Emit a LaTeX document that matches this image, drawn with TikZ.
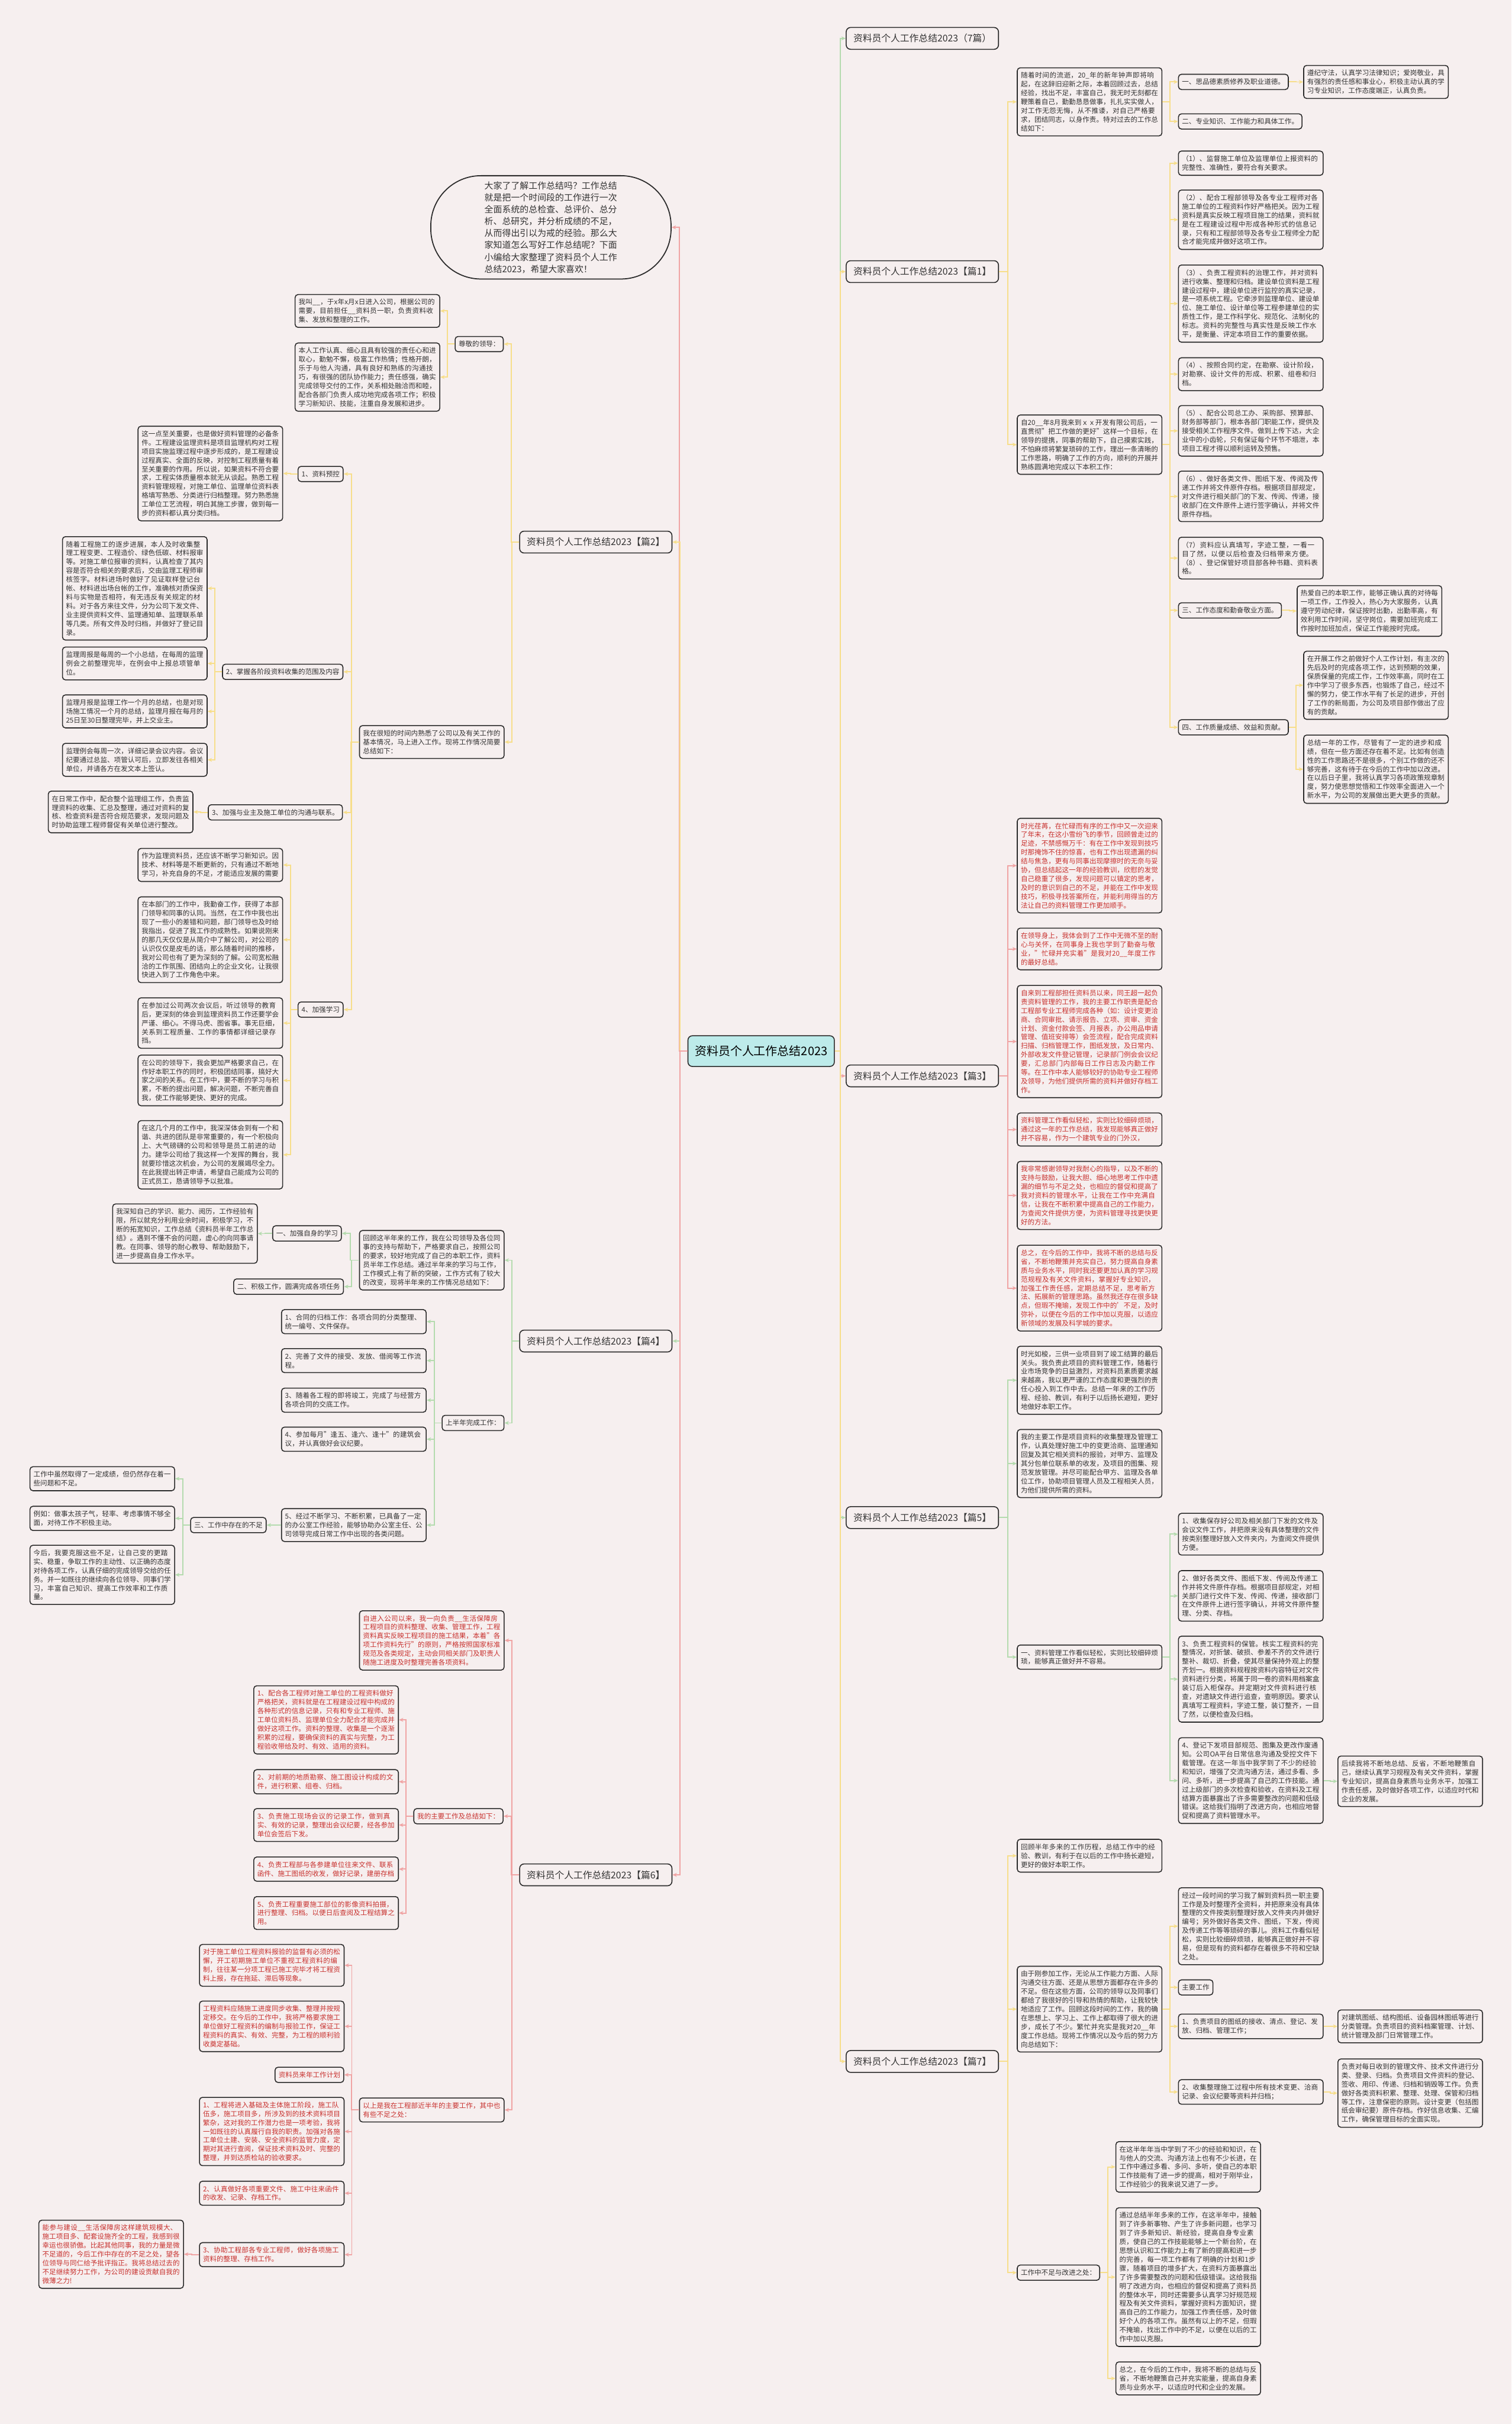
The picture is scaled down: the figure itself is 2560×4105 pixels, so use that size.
\documentclass[tikz,border=0pt]{standalone}
\usepackage{fontspec}
\setmainfont{Noto Sans CJK SC}
\usetikzlibrary{arrows.meta,calc}
\XeTeXlinebreaklocale "zh"
\XeTeXlinebreakskip = 0pt plus 1pt
\setlength\parindent{0pt}

\definecolor{bgc}{HTML}{F6EFEF}
\definecolor{bdr}{HTML}{2A2A2A}
\definecolor{txt}{HTML}{333333}
\definecolor{redtx}{HTML}{C8312E}
\definecolor{ylc}{HTML}{F7DE8A}
\definecolor{gnc}{HTML}{B4DBAE}
\definecolor{pkc}{HTML}{F0A4A4}
\definecolor{ctrc}{HTML}{BDEBEA}

\newcommand\smalltxt{\fontsize{6.6pt}{8.5pt}\selectfont}
\newcommand\headtxt{\fontsize{9pt}{11pt}\selectfont}
\newcommand\introtxt{\fontsize{8.5pt}{11.5pt}\selectfont}

\tikzset{
  box/.style={draw=bdr, line width=0.9pt, rounded corners=0.1cm, fill=bgc,
    inner xsep=0.12cm, inner ysep=0.15cm, font=\smalltxt, text=txt, anchor=north west},
  leaf/.style={box, text width=4.66cm, align=left},
  rtxt/.style={text=redtx},
  head/.style={draw=bdr, line width=0.9pt, rounded corners=0.15cm, fill=bgc,
    font=\headtxt, text=txt, minimum width=5.16cm, minimum height=0.74cm},
  lnk/.style={line width=1.1pt, -{Stealth[length=0.15cm,width=0.13cm]},
    to path={-| ($(\tikztostart)!0.5!(\tikztotarget)$) |- (\tikztotarget)}},
  ylw/.style={lnk, draw=ylc},
  grn/.style={lnk, draw=gnc},
  pnk/.style={lnk, draw=pkc},
}

\begin{document}
\begin{tikzpicture}[x=0.02cm,y=-0.02cm]
\fill[bgc] (0,0) rectangle (2560,4105);
\useasboundingbox (0,0) rectangle (2560,4105);

% centre and headings
\node[draw=bdr, line width=0.9pt, rounded corners=0.15cm, fill=ctrc, font=\fontsize{11.4pt}{13pt}\selectfont,
  minimum width=4.96cm, minimum height=1.04cm] (ctr) at (1289,1780) {资料员个人工作总结2023};

\node[draw=bdr, line width=1pt, rounded corners=1.7cm, fill=bgc, font=\introtxt, text=txt,
  text width=4.5cm, align=left, minimum width=8.14cm, minimum height=3.5cm] (intro) at (933,385)
  {大家了了解工作总结吗？工作总结就是把一个时间段的工作进行一次全面系统的总检查、总评价、总分析、总研究，并分析成绩的不足，从而得出引以为戒的经验。那么大家知道怎么写好工作总结呢？下面小编给大家整理了资料员个人工作总结2023，希望大家喜欢！};

\node[head] (p2) at (1009,918) {资料员个人工作总结2023【篇2】};
\node[head] (p4) at (1009,2271) {资料员个人工作总结2023【篇4】};
\node[head] (p6) at (1009,3175) {资料员个人工作总结2023【篇6】};
\node[head] (all7) at (1562,65) {资料员个人工作总结2023（7篇）};
\node[head] (p1) at (1562,460) {资料员个人工作总结2023【篇1】};
\node[head] (p3) at (1562,1822) {资料员个人工作总结2023【篇3】};
\node[head] (p5) at (1562,2570) {资料员个人工作总结2023【篇5】};
\node[head] (p7) at (1562,3491) {资料员个人工作总结2023【篇7】};

\draw[pnk] (ctr.west) to (intro.east);
\draw[ylw] (ctr.west) to (p2.east);
\draw[grn] (ctr.west) to (p4.east);
\draw[pnk] (ctr.west) to (p6.east);
\draw[grn] (ctr.east) to (all7.west);
\draw[ylw] (ctr.east) to (p1.west);
\draw[pnk] (ctr.east) to (p3.west);
\draw[grn] (ctr.east) to (p5.west);
\draw[ylw] (ctr.east) to (p7.west);

% 篇2
\node[box] (p2ldr) at (770,569) {尊敬的领导：};
\node[leaf] (p2ldr1) at (499,498) {我叫\_\_，于x年x月x日进入公司，根据公司的需要，目前担任\_\_资料员一职，负责资料收集、发放和整理的工作。};
\node[leaf] (p2ldr2) at (499,580) {本人工作认真、细心且具有较强的责任心和进取心，勤勉不懈，极富工作热情；性格开朗，乐于与他人沟通，具有良好和熟练的沟通技巧，有很强的团队协作能力；责任感强，确实完成领导交付的工作，关系相处融洽而和睦，配合各部门负责人成功地完成各项工作；积极学习新知识、技能，注重自身发展和进步。};
\node[leaf] (p2sum) at (608,1228) {我在很短的时间内熟悉了公司以及有关工作的基本情况，马上进入工作。现将工作情况简要总结如下：};
\node[box] (p2i1) at (504,789) {1、资料预控};
\node[leaf] (p2i1a) at (233,721) {这一点至关重要，也是做好资料管理的必备条件。工程建设监理资料是项目监理机构对工程项目实施监理过程中逐步形成的，是工程建设过程真实、全面的反映，对控制工程质量有着至关重要的作用。所以说，如果资料不符合要求，工程实体质量根本就无从谈起。熟悉工程资料管理规程，对施工单位、监理单位资料表格填写熟悉、分类进行归档整理。努力熟悉施工单位工艺流程，明白其施工步骤，做到每一步的资料都认真分类归档。};
\node[box] (p2i2) at (376,1124) {2、掌握各阶段资料收集的范围及内容};
\node[leaf] (p2i2a) at (105,908) {随着工程施工的逐步进展，本人及时收集整理工程变更、工程造价、绿色低碳、材料报审等。对施工单位报审的资料，认真检查了其内容是否符合相关的要求后，交由监理工程师审核签字。材料进场时做好了见证取样登记台帐、材料进出场台帐的工作，准确核对质保资料与实物是否相符，有无违反有关规定的材料。对于各方来往文件，分为公司下发文件、业主提供资料文件、监理通知单、监理联系单等几类。所有文件及时归档，并做好了登记目录。};
\node[leaf] (p2i2b) at (105,1095) {监理周报是每周的一个小总结，在每周的监理例会之前整理完毕，在例会中上报总项管单位。};
\node[leaf] (p2i2c) at (105,1176) {监理月报是监理工作一个月的总结，也是对现场施工情况一个月的总结，监理月报在每月的25日至30日整理完毕，并上交业主。};
\node[leaf] (p2i2d) at (105,1258) {监理例会每周一次，详细记录会议内容。会议纪要通过总监、项管认可后，立即发往各相关单位，并请各方在发文本上签认。};
\node[box] (p2i3) at (352,1362) {3、加强与业主及施工单位的沟通与联系。};
\node[leaf] (p2i3a) at (81,1339) {在日常工作中，配合整个监理组工作，负责监理资料的收集、汇总及整理，通过对资料的复核、检查资料是否符合规范要求，发现问题及时协助监理工程师督促有关单位进行整改。};
\node[box] (p2i4) at (504,1696) {4、加强学习};
\node[leaf] (p2i4a) at (233,1436) {作为监理资料员，还应该不断学习新知识。因技术、材料等是不断更新的，只有通过不断地学习，补充自身的不足，才能适应发展的需要};
\node[leaf] (p2i4b) at (233,1518) {在本部门的工作中，我勤奋工作，获得了本部门领导和同事的认同。当然，在工作中我也出现了一些小的差错和问题，部门领导也及时给我指出，促进了我工作的成熟性。如果说刚来的那几天仅仅是从简介中了解公司，对公司的认识仅仅是皮毛的话，那么随着时间的推移，我对公司也有了更为深刻的了解。公司宽松融洽的工作氛围、团结向上的企业文化，让我很快进入到了工作角色中来。};
\node[leaf] (p2i4c) at (233,1689) {在参加过公司两次会议后，听过领导的教育后，更深刻的体会到监理资料员工作还要学会严谨、细心。不得马虎、图省事。事无巨细，关系到工程质量、工作的事情都详细记录存挡。};
\node[leaf] (p2i4d) at (233,1786) {在公司的领导下，我会更加严格要求自己，在作好本职工作的同时，积极团结同事，搞好大家之间的关系。在工作中，要不断的学习与积累，不断的提出问题，解决问题，不断完善自我，使工作能够更快、更好的完成。};
\node[leaf] (p2i4e) at (233,1897) {在这几个月的工作中，我深深体会到有一个和谐、共进的团队是非常重要的，有一个积极向上、大气磅礴的公司和领导是员工前进的动力。建华公司给了我这样一个发挥的舞台，我就要珍惜这次机会，为公司的发展竭尽全力。在此我提出转正申请，希望自己能成为公司的正式员工，恳请领导予以批准。};

\draw[ylw] (p2.west) to (p2ldr.east);
\draw[ylw] (p2.west) to (p2sum.east);
\foreach \c in {p2ldr1,p2ldr2} \draw[ylw] (p2ldr.west) to (\c.east);
\foreach \c in {p2i1,p2i2,p2i3,p2i4} \draw[ylw] (p2sum.west) to (\c.east);
\draw[ylw] (p2i1.west) to (p2i1a.east);
\foreach \c in {p2i2a,p2i2b,p2i2c,p2i2d} \draw[ylw] (p2i2.west) to (\c.east);
\draw[ylw] (p2i3.west) to (p2i3a.east);
\foreach \c in {p2i4a,p2i4b,p2i4c,p2i4d,p2i4e} \draw[ylw] (p2i4.west) to (\c.east);

% 篇4
\node[leaf] (p4rev) at (608,2083) {回顾这半年来的工作，我在公司领导及各位同事的支持与帮助下，严格要求自己，按照公司的要求，较好地完成了自己的本职工作，资料员半年工作总结。通过半年来的学习与工作，工作模式上有了新的突破，工作方式有了较大的改变，现将半年来的工作情况总结如下：};
\node[box] (p4s1) at (461,2075) {一、加强自身的学习};
\node[leaf] (p4s1a) at (190,2038) {我深知自己的学识、能力、阅历，工作经验有限，所以就充分利用业余时间，积极学习，不断的拓宽知识，工作总结《资料员半年工作总结》。遇到不懂不会的问题，虚心的向同事请教。在同事、领导的耐心教导、帮助鼓励下，进一步提高自身工作水平。};
\node[box] (p4s2) at (395,2165) {二、积极工作，圆满完成各项任务};
\node[box] (p4half) at (748,2396) {上半年完成工作：};
\node[leaf] (p4h1) at (476,2217) {1、合同的归档工作：各项合同的分类整理、统一编号、文件保存。};
\node[leaf] (p4h2) at (476,2283) {2、完善了文件的接受、发放、借阅等工作流程。};
\node[leaf] (p4h3) at (476,2350) {3、随着各工程的即将竣工，完成了与经营方各项合同的交底工作。};
\node[leaf] (p4h4) at (476,2416) {4、参加每月"逢五、逢六、逢十"的建筑会议，并认真做好会议纪要。};
\node[leaf] (p4h5) at (476,2554) {5、经过不断学习、不断积累，已具备了一定的办公室工作经验，能够协助办公室主任、公司领导完成日常工作中出现的各类问题。};
\node[box] (p4lack) at (322,2569) {三、工作中存在的不足};
\node[leaf] (p4la) at (50,2483) {工作中虽然取得了一定成绩，但仍然存在着一些问题和不足。};
\node[leaf] (p4lb) at (50,2550) {例如：做事太孩子气，轻率、考虑事情不够全面，对待工作不积极主动。};
\node[leaf] (p4lc) at (50,2616) {今后，我要克服这些不足，让自己变的更踏实、稳重，争取工作的主动性、以正确的态度对待各项工作，认真仔细的完成领导交给的任务。并一如既往的继续向各位领导、同事们学习，丰富自己知识、提高工作效率和工作质量。};

\draw[grn] (p4.west) to (p4rev.east);
\draw[grn] (p4.west) to (p4half.east);
\foreach \c in {p4s1,p4s2} \draw[grn] (p4rev.west) to (\c.east);
\draw[grn] (p4s1.west) to (p4s1a.east);
\foreach \c in {p4h1,p4h2,p4h3,p4h4,p4h5} \draw[grn] (p4half.west) to (\c.east);
\draw[grn] (p4h5.west) to (p4lack.east);
\foreach \c in {p4la,p4lb,p4lc} \draw[grn] (p4lack.west) to (\c.east);

% 篇6
\node[leaf,rtxt] (p6in) at (608,2727) {自进入公司以来，我一向负责\_\_生活保障房工程项目的资料整理、收集、管理工作，工程资料真实反映工程项目的施工结果，本着"各项工作资料先行"的原则，严格按照国家标准规范及各类规定，主动会同相关部门及职责人随施工进度及时整理完善各项资料。};
\node[box,rtxt] (p6main) at (700,3062) {我的主要工作及总结如下：};
\node[leaf,rtxt] (p6m1) at (429,2854) {1、配合各工程师对施工单位的工程资料做好严格把关，资料就是在工程建设过程中构成的各种形式的信息记录，只有和专业工程师、施工单位资料员、监理单位全力配合才能完成并做好这项工作。资料的整理、收集是一个逐渐积累的过程，要确保资料的真实与完整，为工程验收带给及时、有效、适用的资料。};
\node[leaf,rtxt] (p6m2) at (429,2996) {2、对前期的地质勘察、施工图设计构成的文件，进行积累、组卷、归档。};
\node[leaf,rtxt] (p6m3) at (429,3062) {3、负责施工现场会议的记录工作，做到真实、有效的记录，整理出会议纪要，经各参加单位会签后下发。};
\node[leaf,rtxt] (p6m4) at (429,3144) {4、负责工程部与各参建单位往来文件、联系函件、施工图纸的收发，做好记录，建册存档};
\node[leaf,rtxt] (p6m5) at (429,3211) {5、负责工程重要施工部位的影像资料拍摄，进行整理、归档。以便日后查阅及工程结算之用。};
\node[leaf,rtxt] (p6end) at (608,3552) {以上是我在工程部近半年的主要工作，其中也有些不足之处：};
\node[leaf,rtxt] (p6e1) at (337,3292) {对于施工单位工程资料报验的监督有必须的松懈，开工初期施工单位不重视工程资料的编制，往往某一分项工程已施工完毕才将工程资料上报，存在拖延、滞后等现象。};
\node[leaf,rtxt] (p6e2) at (337,3388) {工程资料应随施工进度同步收集、整理并按规定移交。在今后的工作中，我将严格要求施工单位做好工程资料的编制与报验工作，保证工程资料的真实、有效、完整，为工程的顺利验收奠定基础。};
\node[box,rtxt] (p6plan) at (465,3500) {资料员来年工作计划};
\node[leaf,rtxt] (p6n1) at (337,3551) {1、工程将进入基础及主体施工阶段，施工队伍多，施工项目多，所涉及到的技术资料项目繁杂，这对我的工作潜力也是一项考验，我将一如既往的认真履行自我的职责。加强对各施工单位土建、安装、安全资料的监管力度，定期对其进行查阅，保证技术资料及时、完整的整理，并到达质检站的验收要求。};
\node[leaf,rtxt] (p6n2) at (337,3693) {2、认真做好各项重要文件、施工中往来函件的收发、记录、存档工作。};
\node[leaf,rtxt] (p6n3) at (337,3797) {3、协助工程部各专业工程师，做好各项施工资料的整理、存档工作。};
\node[leaf,rtxt] (p6n3a) at (65,3759) {能参与建设\_\_生活保障房这样建筑规模大、施工项目多、配套设施齐全的工程，我感到很幸运也很骄傲。比起其他同事，我的力量是微不足道的，今后工作中存在的不足之处，望各位领导与同仁给予批评指正。我将总结过去的不足继续努力工作，为公司的建设贡献自我的微薄之力!};

\foreach \c in {p6in,p6main,p6end} \draw[pnk] (p6.west) to (\c.east);
\foreach \c in {p6m1,p6m2,p6m3,p6m4,p6m5} \draw[pnk] (p6main.west) to (\c.east);
\foreach \c in {p6e1,p6e2,p6plan,p6n1,p6n2,p6n3} \draw[pnk] (p6end.west) to (\c.east);
\draw[pnk] (p6n3.west) to (p6n3a.east);

% 篇1
\node[leaf] (p1a) at (1722,114) {随着时间的流逝，20\_年的新年钟声即将响起，在这辞旧迎新之际，本着回顾过去，总结经验，找出不足，丰富自己，我无时无刻都在鞭策着自己，勤勤恳恳做事，扎扎实实做人，对工作无怨无悔，从不推诿，对自己严格要求，团结同志，以身作责。特对过去的工作总结如下：};
\node[box] (p1a1) at (1995,125) {一、思品德素质修养及职业道德。};
\node[leaf] (p1a1a) at (2207,110) {遵纪守法，认真学习法律知识；爱岗敬业，具有强烈的责任感和事业心，积极主动认真的学习专业知识，工作态度端正，认真负责。};
\node[box] (p1a2) at (1995,192) {二、专业知识、工作能力和具体工作。};
\node[leaf] (p1b) at (1722,702) {自20\_\_年8月我来到ｘｘ开发有限公司后，一直贯彻"把工作做的更好"这样一个目标，在领导的提携，同事的帮助下，自己摸索实践，不怕麻烦将繁复琐碎的工作，理出一条清晰的工作思路，明确了工作的方向，顺利的开展并熟练圆满地完成以下本积工作：};
\node[leaf] (p1b1) at (1995,255) {（1）、监督施工单位及监理单位上报资料的完整性、准确性，要符合有关要求。};
\node[leaf] (p1b2) at (1995,321) {（2）、配合工程部领导及各专业工程师对各施工单位的工程资料作好严格把关。因为工程资料是真实反映工程项目施工的结果，资料就是在工程建设过程中形成各种形式的信息记录，只有和工程部领导及各专业工程师全力配合才能完成并做好这项工作。};
\node[leaf] (p1b3) at (1995,448) {（3）、负责工程资料的治理工作，并对资料进行收集、整理和归档。建设单位资料是工程建设过程中，建设单位进行监控的真实记录，是一项系统工程。它牵涉到监理单位、建设单位、施工单位、设计单位等工程参建单位的实质性工作，是工作科学化、规范化、法制化的标志。资料的完整性与真实性是反映工作水平，是衡量、评定本项目工作的重要依据。};
\node[leaf] (p1b4) at (1995,605) {（4）、按照合同约定，在勘察、设计阶段，对勘察、设计文件的形成、积累、组卷和归档。};
\node[leaf] (p1b5) at (1995,686) {（5）、配合公司总工办、采购部、预算部、财务部等部门，根本各部门职能工作，提供及接受相关工作程序文件。做到上传下达，大企业中的小齿轮，只有保证每个环节不塌泄，本项目工程才得以顺利运转及预售。};
\node[leaf] (p1b6) at (1995,797) {（6）、做好各类文件、图纸下发、传阅及传递工作并将文件原件存档。根据项目部规定，对文件进行相关部门的下发、传阅、传递，接收部门在文件原件上进行签字确认，并将文件原件存档。};
\node[leaf] (p1b7) at (1995,909) {（7）资料应认真填写，字迹工整，一看一目了然，以便以后检查及归档带来方便。（8）、登记保管好项目部各种书籍、资料表格。};
\node[box] (p1b8) at (1995,1020) {三、工作态度和勤奋敬业方面。};
\node[leaf] (p1b8a) at (2196,991) {热爱自己的本职工作，能够正确认真的对待每一项工作，工作投入，热心为大家服务，认真遵守劳动纪律，保证按时出勤，出勤率高，有效利用工作时间，坚守岗位，需要加班完成工作按时加班加点，保证工作能按时完成。};
\node[box] (p1b9) at (1995,1218) {四、工作质量成绩、效益和贡献。};
\node[leaf] (p1b9a) at (2207,1102) {在开展工作之前做好个人工作计划，有主次的先后及时的完成各项工作，达到预期的效果，保质保量的完成工作，工作效率高，同时在工作中学习了很多东西，也锻炼了自己，经过不懈的努力，使工作水平有了长足的进步，开创了工作的新局面，为公司及项目部作做出了应有的贡献。};
\node[leaf] (p1b9b) at (2207,1244) {总结一年的工作，尽管有了一定的进步和成绩，但在一些方面还存在着不足。比如有创造性的工作思路还不是很多，个别工作做的还不够完善，这有待于在今后的工作中加以改进。在以后日子里，我将认真学习各项政策规章制度，努力使思想觉悟和工作效率全面进入一个新水平，为公司的发展做出更大更多的贡献。};

\foreach \c in {p1a,p1b} \draw[ylw] (p1.east) to (\c.west);
\foreach \c in {p1a1,p1a2} \draw[ylw] (p1a.east) to (\c.west);
\draw[ylw] (p1a1.east) to (p1a1a.west);
\foreach \c in {p1b1,p1b2,p1b3,p1b4,p1b5,p1b6,p1b7,p1b8,p1b9} \draw[ylw] (p1b.east) to (\c.west);
\draw[ylw] (p1b8.east) to (p1b8a.west);
\foreach \c in {p1b9a,p1b9b} \draw[ylw] (p1b9.east) to (\c.west);

% 篇3
\node[leaf,rtxt] (p3a) at (1722,1385) {时光荏苒，在忙碌而有序的工作中又一次迎来了年末，在这小雪纷飞的季节，回顾曾走过的足迹，不禁感慨万千：有在工作中发现到技巧时那掩饰不住的惊喜，也有工作出现遗漏的纠结与焦急，更有与同事出现摩擦时的无奈与妥协，但总结起这一年的经验教训，欣慰的发觉自己稳重了很多，发现问题可以镇定的思考，及时的意识到自己的不足，并能在工作中发现技巧，积极寻找答案所在，并能利用得当的方法让自己的资料管理工作更加顺手。};
\node[leaf,rtxt] (p3b) at (1722,1571) {在领导身上，我体会到了工作中无微不至的耐心与关怀，在同事身上我也学到了勤奋与敬业，"忙碌并充实着"是我对20\_\_年度工作的最好总结。};
\node[leaf,rtxt] (p3c) at (1722,1668) {自来到工程部担任资料员以来，同王超一起负责资料管理的工作，我的主要工作职责是配合工程部专业工程师完成各种（如：设计变更洽商、合同审批、请示报告、立项、资审、资金计划、资金付款会签、月报表，办公用品申请管理、值班安排等）会签流程，配合完成资料扫描、归档管理工作，图纸发放，及日常内、外部收发文件登记管理，记录部门例会会议纪要，汇总部门内部每日工作日志及内勤工作等。在工作中本人能够较好的协助专业工程师及领导，为他们提供所需的资料并做好存档工作。};
\node[leaf,rtxt] (p3d) at (1722,1884) {资料管理工作看似轻松，实则比较细碎烦琐，通过这一年的工作总结，我发现能够真正做好并不容易，作为一个建筑专业的门外汉，};
\node[leaf,rtxt] (p3e) at (1722,1966) {我非常感谢领导对我耐心的指导，以及不断的支持与鼓励，让我大胆、细心地思考工作中遗漏的细节与不足之处，也相应的督促和提高了我对资料的管理水平，让我在工作中充满自信，让我在不断积累中提高自己的工作能力，为查阅文件提供方便，为资料管理寻找更快更好的方法。};
\node[leaf,rtxt] (p3f) at (1722,2108) {总之，在今后的工作中，我将不断的总结与反省，不断地鞭策并充实自己，努力提高自身素质与业务水平，同时我还要更加认真的学习规范规程及有关文件资料，掌握好专业知识，加强工作责任感，定期总结不足，思考新方法、拓展新的管理思路。虽然我还存在很多缺点，但瑕不掩瑜，发现工作中的'不足，及时弥补，以便在今后的工作中加以克服，以适应新领域的发展及科学城的要求。};

\foreach \c in {p3a,p3b,p3c,p3d,p3e,p3f} \draw[pnk] (p3.east) to (\c.west);

% 篇5
\node[leaf] (p5a) at (1722,2279) {时光如梭，三供一业项目到了竣工结算的最后关头。我负责此项目的资料管理工作，随着行业市场竞争的日益激烈，对资料员素质要求越来越高，我以更严谨的工作态度和更强烈的责任心投入到工作中去。总结一年来的工作历程、经验、教训，有利于以后扬长避短，更好地做好本职工作。};
\node[leaf] (p5b) at (1722,2420) {我的主要工作是项目资料的收集整理及管理工作，认真处理好施工中的变更洽商、监理通知回复及其它相关资料的报验，对甲方、监理及其分包单位联系单的收发，及项目的图集、规范发放管理。并尽可能配合甲方、监理及各单位工作，协助项目管理人员及工程相关人员，为他们提供所需的资料。};
\node[leaf] (p5c) at (1722,2785) {一、资料管理工作看似轻松，实则比较细碎烦琐，能够真正做好并不容易。};
\node[leaf] (p5c1) at (1995,2562) {1、收集保存好公司及相关部门下发的文件及会议文件工作，并把原来没有具体整理的文件按类别整理好放入文件夹内，为查阅文件提供方便。};
\node[leaf] (p5c2) at (1995,2659) {2、做好各类文件、图纸下发、传阅及传递工作并将文件原件存档。根据项目部规定，对相关部门进行文件下发、传阅、传递，接收部门在文件原件上进行签字确认，并将文件原件整理、分类、存档。};
\node[leaf] (p5c3) at (1995,2770) {3、负责工程资料的保管。核实工程资料的完整情况，对折皱、破损、参差不齐的文件进行整补、裁切、折叠，使其尽量保持外观上的整齐划一。根据资料规程按资料内容特征对文件资料进行分类，将属于同一卷的资料用档案盒装订后入柜保存。并定期对文件资料进行核查，对遗缺文件进行追查，查明原因。要求认真填写工程资料，字迹工整，装订整齐，一目了然，以便检查及归档。};
\node[leaf] (p5c4) at (1995,2942) {4、登记下发项目部规范、图集及更改作废通知。公司OA平台日常信息沟通及受控文件下载管理。在这一年当中我学到了不少的经验和知识，增强了交流沟通方法，通过多看、多问、多听，进一步提高了自己的工作技能。通过上级部门的多次检查和验收，在资料及工程结算方面暴露出了许多需要整改的问题和低级错误。这给我们指明了改进方向，也相应地督促和提高了资料管理水平。};
\node[leaf] (p5c4a) at (2265,2973) {后续我将不断地总结、反省，不断地鞭策自己，继续认真学习规程及有关文件资料，掌握专业知识，提高自身素质与业务水平，加强工作责任感，及时做好各项工作，以适应时代和企业的发展。};

\foreach \c in {p5a,p5b,p5c} \draw[grn] (p5.east) to (\c.west);
\foreach \c in {p5c1,p5c2,p5c3,p5c4} \draw[grn] (p5c.east) to (\c.west);
\draw[grn] (p5c4.east) to (p5c4a.west);

% 篇7
\node[leaf] (p7a) at (1722,3114) {回顾半年多来的工作历程，总结工作中的经验、教训，有利于在以后的工作中扬长避短，更好的做好本职工作。};
\node[leaf] (p7b) at (1722,3329) {由于刚参加工作，无论从工作能力方面、人际沟通交往方面、还是从思想方面都存在许多的不足。但在这些方面，公司的领导以及同事们都给了我很好的引导和热情的帮助，让我较快地适应了工作。回顾这段时间的工作，我的确在思想上、学习上、工作上都取得了很大的进步，成长了不少。繁忙并充实是我对20\_\_年度工作总结。现将工作情况以及今后的努力方向总结如下：};
\node[leaf] (p7b1) at (1995,3196) {经过一段时间的学习我了解到资料员一职主要工作是及时整理齐全资料，并把原来没有具体整理的文件按类别整理好放入文件夹内并做好编号；另外做好各类文件、图纸，下发，传阅及传递工作等等琐碎的事儿。资料工作看似轻松，实则比较细碎烦琐，能够真正做好并不容易，但是现有的资料都存在着很多不符和空缺之处。};
\node[box] (p7b2) at (1995,3352) {主要工作};
\node[leaf] (p7b3) at (1995,3410) {1、负责项目的图纸的接收、清点、登记、发放、归档、管理工作；};
\node[leaf] (p7b3a) at (2265,3403) {对建筑图纸、结构图纸、设备园林图纸等进行分类管理。负责项目的资料档案管理、计划、统计管理及部门日常管理工作。};
\node[leaf] (p7b4) at (1995,3521) {2、收集整理施工过程中所有技术变更、洽商记录、会议纪要等资料并归档；};
\node[leaf] (p7b4a) at (2265,3486) {负责对每日收到的管理文件、技术文件进行分类、登录、归档。负责项目文件资料的登记、签收、用印、传递、归档和销毁等工作。负责做好各类资料积累、整理、处理、保管和归档等工作，注意保密的原则。设计变更（包括图纸会审纪要）原件存档。作好信息收集、汇编工作，确保管理目标的全面实现。};
\node[box] (p7c) at (1722,3835) {工作中不足与改进之处：};
\node[leaf] (p7c1) at (1889,3626) {在这半年年当中学到了不少的经验和知识，在与他人的交流、沟通方法上也有不少长进，在工作中通过多看、多问、多听，使自己的本职工作技能有了进一步的提高，相对于刚毕业，工作经验少的我来说又进了一步。};
\node[leaf] (p7c2) at (1889,3738) {通过总结半年多来的工作，在这半年中，接触到了许多新事物、产生了许多新问题，也学习到了许多新知识、新经验，提高自身专业素质，使自己的工作技能能够上一个新台阶，在思想认识和工作能力上有了新的提高和进一步的完善，每一项工作都有了明确的计划和1步骤，随着项目的增多扩大，在资料方面暴露出了许多需要整改的问题和低级错误。这给我指明了改进方向，也相应的督促和提高了资料员的整体水平，同时还需要多认真学习好规范规程及有关文件资料，掌握好资料方面知识，提高自己的工作能力，加强工作责任感，及时做好个人的各项工作。虽然有以上的不足，但瑕不掩瑜，找出工作中的不足，以便在以后的工作中加以克服。};
\node[leaf] (p7c3) at (1889,3999) {总之，在今后的工作中，我将不断的总结与反省，不断地鞭策自己并充实能量，提高自身素质与业务水平，以适应时代和企业的发展。};

\foreach \c in {p7a,p7b,p7c} \draw[ylw] (p7.east) to (\c.west);
\foreach \c in {p7b1,p7b2,p7b3,p7b4} \draw[ylw] (p7b.east) to (\c.west);
\draw[ylw] (p7b3.east) to (p7b3a.west);
\draw[ylw] (p7b4.east) to (p7b4a.west);
\foreach \c in {p7c1,p7c2,p7c3} \draw[ylw] (p7c.east) to (\c.west);

\end{tikzpicture}
\end{document}
